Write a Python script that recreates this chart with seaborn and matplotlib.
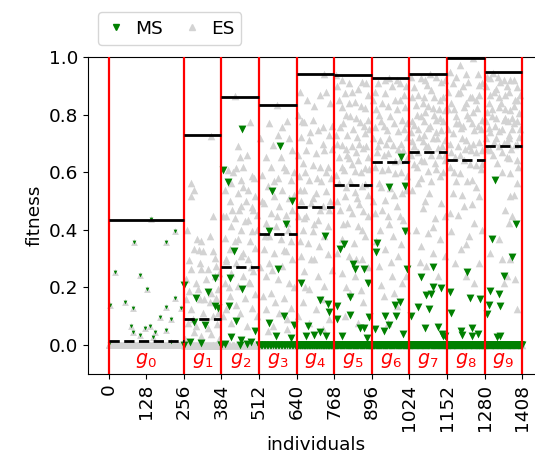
import numpy as np
import pandas as pd
import matplotlib
matplotlib.use("Agg")
import matplotlib.pyplot as plt
from matplotlib.lines import Line2D
import seaborn as sns

# ---------------- data ----------------
gen_starts = [0, 256, 384, 512, 640, 768, 896, 1024, 1152, 1280]
gen_ends = [256, 384, 512, 640, 768, 896, 1024, 1152, 1280, 1408]
gen_labels = ["$g_{0}$", "$g_{1}$", "$g_{2}$", "$g_{3}$", "$g_{4}$",
              "$g_{5}$", "$g_{6}$", "$g_{7}$", "$g_{8}$", "$g_{9}$"]
gen_best = [0.436, 0.728, 0.863, 0.834, 0.943, 0.939, 0.928, 0.942, 0.998, 0.947]
gen_mid = [0.014, 0.090, 0.270, 0.386, 0.480, 0.557, 0.636, 0.669, 0.642, 0.693]
x_ticks = [0, 128, 256, 384, 512, 640, 768, 896, 1024, 1152, 1280, 1408]
y_ticks = [0.0, 0.2, 0.4, 0.6, 0.8, 1.0]

# number of individuals with fitness 0 per generation
es_zero_counts = [200, 40, 30, 20, 15, 10, 10, 8, 8, 8]
ms_zero_counts = [0, 2, 3, 25, 60, 70, 70, 75, 80, 80]

# (offset inside generation, fitness)
es_g0 = [(145, 0.438), (225, 0.396), (85, 0.359), (194, 0.357), (20, 0.254), (108, 0.245),
         (129, 0.196), (227, 0.165), (3, 0.138), (54, 0.148), (83, 0.130), (194, 0.133),
         (245, 0.130), (176, 0.096), (213, 0.092), (75, 0.067), (142, 0.067), (125, 0.058),
         (83, 0.046), (106, 0.035), (157, 0.044), (194, 0.052), (151, 0.027), (0, 0.005),
         (213, 0.010)]
ms_g0 = list(es_g0)

es_g1 = [(93, 0.727), (25, 0.563), (34, 0.540), (25, 0.517), (99, 0.447), (46, 0.369),
         (59, 0.360), (88, 0.378), (36, 0.332), (65, 0.326), (99, 0.326), (19, 0.295),
         (54, 0.286), (105, 0.303), (25, 0.263), (59, 0.263), (82, 0.263), (110, 0.275),
         (8, 0.228), (42, 0.217), (76, 0.228), (105, 0.240), (19, 0.188), (48, 0.194),
         (93, 0.182), (116, 0.194), (8, 0.159), (54, 0.159), (88, 0.148), (110, 0.165),
         (25, 0.125), (65, 0.113), (99, 0.100), (116, 0.113), (14, 0.078), (42, 0.067),
         (82, 0.061), (114, 0.073), (36, 0.044), (93, 0.038), (5, 0.02), (60, 0.03),
         (120, 0.02), (30, 0.09), (70, 0.16), (120, 0.25), (50, 0.33), (10, 0.40)]
ms_g1 = [(0, 0.207), (105, 0.234), (82, 0.185), (42, 0.165), (105, 0.136), (116, 0.130),
         (36, 0.080), (73, 0.069), (20, 0.012), (60, 0.008)]

es_g2 = [(46, 0.865), (97, 0.776), (86, 0.661), (63, 0.653), (51, 0.615), (74, 0.620),
         (23, 0.609), (103, 0.586), (68, 0.574), (34, 0.563), (11, 0.540), (57, 0.528),
         (91, 0.540), (114, 0.517), (29, 0.500), (68, 0.482), (108, 0.470), (17, 0.447),
         (46, 0.442), (91, 0.436), (120, 0.453), (34, 0.413), (68, 0.401), (103, 0.396),
         (11, 0.373), (57, 0.367), (97, 0.361), (29, 0.332), (74, 0.321), (114, 0.338),
         (17, 0.292), (51, 0.286), (91, 0.298), (34, 0.251), (74, 0.240), (108, 0.257),
         (11, 0.217), (57, 0.205), (97, 0.217), (29, 0.171), (80, 0.165), (114, 0.176),
         (17, 0.125), (63, 0.113), (103, 0.130), (34, 0.078), (86, 0.067)]
es_g2b = [(5, 0.45), (40, 0.60), (60, 0.47), (85, 0.50), (100, 0.27), (120, 0.40),
          (15, 0.30), (45, 0.36), (80, 0.43), (110, 0.58), (25, 0.20), (65, 0.31),
          (95, 0.22), (5, 0.10), (50, 0.14), (120, 0.10), (35, 0.47), (75, 0.55),
          (105, 0.48), (55, 0.69)]
ms_g2 = [(71, 0.750), (6, 0.607), (23, 0.565), (43, 0.326), (71, 0.194), (25, 0.136),
         (29, 0.233), (51, 0.084), (116, 0.050), (11, 0.003), (66, 0.018), (86, 0.003),
         (34, 0.027), (100, 0.012)]

es_g3 = [(60, 0.834), (80, 0.759), (46, 0.696), (103, 0.719), (23, 0.655), (74, 0.655),
         (114, 0.678), (40, 0.620), (91, 0.609), (11, 0.592), (63, 0.580), (108, 0.574),
         (29, 0.551), (80, 0.540), (51, 0.517), (103, 0.511), (17, 0.494), (68, 0.482),
         (40, 0.459), (91, 0.453), (114, 0.470), (23, 0.424), (57, 0.413), (97, 0.424),
         (34, 0.378), (74, 0.367), (108, 0.361), (17, 0.332), (51, 0.321), (91, 0.326),
         (34, 0.286), (80, 0.275), (114, 0.298), (23, 0.240), (63, 0.228), (103, 0.217),
         (40, 0.182), (86, 0.165), (23, 0.125), (68, 0.113), (108, 0.130), (46, 0.067),
         (97, 0.055)]
es_g3b = [(5, 0.72), (35, 0.77), (65, 0.73), (95, 0.78), (120, 0.60), (10, 0.50),
          (50, 0.57), (85, 0.62), (120, 0.52), (20, 0.38), (60, 0.45), (100, 0.40),
          (5, 0.27), (45, 0.26), (85, 0.33), (120, 0.20), (15, 0.17), (55, 0.15),
          (95, 0.09), (30, 0.05)]
ms_g3 = [(71, 0.692), (43, 0.534), (112, 0.500), (91, 0.422), (34, 0.396), (63, 0.263),
         (86, 0.101), (34, 0.078), (120, 0.069), (57, 0.030), (108, 0.023)]

es_g4 = [(95, 0.943), (100, 0.880), (55, 0.782), (26, 0.776), (72, 0.747), (89, 0.759),
         (15, 0.724), (43, 0.713), (112, 0.730), (32, 0.678), (66, 0.667), (95, 0.678),
         (21, 0.632), (55, 0.626), (106, 0.620), (9, 0.586), (43, 0.574), (83, 0.569),
         (117, 0.580), (26, 0.540), (66, 0.528), (100, 0.534), (15, 0.500), (49, 0.494),
         (89, 0.482), (32, 0.447), (72, 0.436), (21, 0.401), (55, 0.396), (106, 0.413),
         (38, 0.355), (78, 0.344), (15, 0.309), (60, 0.298), (106, 0.315), (26, 0.257),
         (72, 0.240), (43, 0.194), (95, 0.205), (21, 0.148), (66, 0.125), (43, 0.078),
         (89, 0.055), (60, 0.83), (20, 0.78), (120, 0.76), (80, 0.62), (5, 0.66),
         (110, 0.47), (60, 0.42), (5, 0.45)]
es_g4b = [(10, 0.88), (35, 0.85), (80, 0.87), (115, 0.84), (5, 0.80), (45, 0.74),
          (90, 0.70), (120, 0.68), (30, 0.60), (70, 0.58), (100, 0.60), (10, 0.54),
          (55, 0.51), (115, 0.50), (25, 0.44), (80, 0.47), (95, 0.38), (10, 0.36),
          (50, 0.30), (120, 0.26), (30, 0.20), (85, 0.16), (5, 0.10), (110, 0.09)]
ms_g4 = [(96, 0.380), (15, 0.217), (80, 0.158), (108, 0.143), (112, 0.115), (40, 0.067),
         (80, 0.044), (32, 0.032), (100, 0.030), (60, 0.035)]

es_g5 = [(5, 0.937), (94, 0.915), (37, 0.874), (71, 0.845), (26, 0.828), (105, 0.822),
         (54, 0.794), (88, 0.776), (20, 0.759), (116, 0.782), (43, 0.730), (77, 0.724),
         (105, 0.736), (26, 0.696), (60, 0.690), (99, 0.684), (15, 0.655), (49, 0.649),
         (82, 0.644), (116, 0.655), (32, 0.609), (71, 0.603), (105, 0.615), (15, 0.563),
         (54, 0.569), (94, 0.551), (37, 0.517), (77, 0.511), (116, 0.522), (20, 0.470),
         (60, 0.459), (99, 0.465), (43, 0.424), (82, 0.413), (26, 0.367), (66, 0.355),
         (105, 0.378), (49, 0.309), (94, 0.298), (26, 0.251), (71, 0.240), (54, 0.182),
         (99, 0.148), (37, 0.101), (82, 0.078), (10, 0.90), (60, 0.88), (115, 0.87),
         (40, 0.80), (75, 0.79), (120, 0.75), (10, 0.70), (85, 0.70), (45, 0.66), (120, 0.61)]
es_g5b = [(25, 0.92), (50, 0.91), (80, 0.89), (110, 0.91), (15, 0.85), (50, 0.84),
          (90, 0.83), (30, 0.77), (65, 0.75), (100, 0.76), (5, 0.73), (40, 0.68),
          (75, 0.67), (110, 0.69), (25, 0.62), (60, 0.63), (90, 0.60), (5, 0.59),
          (40, 0.55), (70, 0.53), (105, 0.56), (10, 0.50), (50, 0.48), (85, 0.49),
          (115, 0.45), (30, 0.42), (95, 0.40), (10, 0.32), (75, 0.30), (115, 0.27),
          (40, 0.20), (90, 0.19)]
ms_g5 = [(21, 0.334), (33, 0.350), (63, 0.280), (70, 0.265), (101, 0.265), (115, 0.215),
         (55, 0.167), (10, 0.136), (10, 0.090), (55, 0.104), (118, 0.096), (89, 0.058),
         (101, 0.061), (27, 0.032), (112, 0.023)]

es_g6 = [(60, 0.928), (11, 0.880), (45, 0.874), (96, 0.909), (34, 0.840), (79, 0.851),
         (113, 0.828), (23, 0.800), (62, 0.794), (102, 0.782), (11, 0.759), (51, 0.747),
         (90, 0.742), (119, 0.724), (28, 0.713), (73, 0.696), (107, 0.678), (17, 0.672),
         (56, 0.667), (96, 0.644), (34, 0.609), (79, 0.597), (119, 0.586), (23, 0.563),
         (62, 0.546), (102, 0.528), (45, 0.505), (85, 0.482), (11, 0.459), (56, 0.447),
         (107, 0.436), (28, 0.401), (73, 0.378), (45, 0.332), (90, 0.309), (23, 0.275),
         (68, 0.240), (102, 0.217), (40, 0.171), (85, 0.136), (56, 0.078), (5, 0.85),
         (70, 0.90), (115, 0.90), (30, 0.78), (85, 0.82), (120, 0.77), (5, 0.72),
         (60, 0.72), (100, 0.70), (40, 0.66), (80, 0.64), (120, 0.65)]
es_g6b = [(20, 0.91), (45, 0.92), (85, 0.92), (110, 0.87), (15, 0.82), (55, 0.83),
          (95, 0.85), (40, 0.76), (75, 0.77), (110, 0.75), (20, 0.69), (50, 0.70),
          (90, 0.68), (10, 0.62), (55, 0.61), (100, 0.60), (30, 0.55), (75, 0.52),
          (115, 0.54), (5, 0.50), (35, 0.47), (95, 0.45), (60, 0.42), (120, 0.40),
          (15, 0.36), (100, 0.35), (65, 0.29), (115, 0.24), (30, 0.21), (75, 0.18)]
ms_g6 = [(58, 0.549), (112, 0.553), (98, 0.655), (112, 0.396), (18, 0.355), (15, 0.323),
         (120, 0.265), (97, 0.148), (78, 0.138), (46, 0.101), (82, 0.101), (58, 0.069),
         (41, 0.050), (10, 0.055), (108, 0.038)]

es_g7 = [(70, 0.940), (40, 0.926), (108, 0.915), (17, 0.897), (74, 0.886), (51, 0.863),
         (103, 0.851), (23, 0.834), (80, 0.822), (120, 0.817), (40, 0.794), (91, 0.782),
         (17, 0.765), (63, 0.753), (108, 0.747), (34, 0.724), (80, 0.719), (120, 0.713),
         (17, 0.690), (57, 0.690), (97, 0.684), (40, 0.644), (86, 0.632), (120, 0.644),
         (63, 0.603), (103, 0.586), (29, 0.563), (68, 0.528), (108, 0.494), (46, 0.476),
         (86, 0.442), (23, 0.401), (63, 0.390), (103, 0.367), (40, 0.344), (80, 0.321),
         (120, 0.309), (57, 0.275), (97, 0.240), (10, 0.78), (30, 0.87), (60, 0.905),
         (85, 0.80), (115, 0.86), (5, 0.66), (45, 0.71), (65, 0.83), (95, 0.72),
         (120, 0.66), (25, 0.62), (75, 0.66), (50, 0.78), (105, 0.79)]
es_g7b = [(5, 0.93), (55, 0.92), (90, 0.93), (120, 0.92), (10, 0.86), (45, 0.84),
          (85, 0.86), (100, 0.82), (25, 0.80), (55, 0.81), (115, 0.78), (5, 0.74),
          (30, 0.75), (70, 0.76), (90, 0.74), (10, 0.71), (50, 0.73), (110, 0.69),
          (30, 0.67), (65, 0.69), (100, 0.66), (15, 0.63), (50, 0.64), (90, 0.61),
          (115, 0.60), (40, 0.58), (75, 0.57), (10, 0.54), (55, 0.50), (120, 0.45),
          (80, 0.41), (35, 0.29)]
ms_g7 = [(80, 0.272), (40, 0.236), (80, 0.200), (108, 0.197), (57, 0.174), (74, 0.179),
         (29, 0.133), (68, 0.127), (6, 0.100), (54, 0.061), (97, 0.063), (114, 0.032),
         (111, 0.038), (122, 0.032)]

es_g8 = [(90, 0.998), (43, 0.972), (20, 0.909), (71, 0.915), (110, 0.903), (37, 0.874),
         (87, 0.863), (15, 0.840), (59, 0.828), (104, 0.822), (31, 0.794), (76, 0.788),
         (121, 0.782), (48, 0.753), (93, 0.747), (20, 0.736), (65, 0.713), (110, 0.707),
         (37, 0.690), (82, 0.678), (121, 0.678), (26, 0.655), (59, 0.644), (99, 0.626),
         (43, 0.597), (87, 0.574), (110, 0.517), (20, 0.528), (59, 0.482), (37, 0.453),
         (93, 0.424), (15, 0.396), (76, 0.378), (48, 0.332), (110, 0.286), (26, 0.286),
         (65, 0.240), (93, 0.217), (5, 0.88), (55, 0.90), (100, 0.85), (30, 0.77),
         (70, 0.80), (115, 0.75), (10, 0.70), (50, 0.72), (90, 0.70), (120, 0.63),
         (60, 0.68), (25, 0.60)]
es_g8b = [(10, 0.95), (30, 0.93), (65, 0.94), (105, 0.94), (120, 0.91), (45, 0.88),
          (80, 0.86), (110, 0.87), (5, 0.82), (25, 0.82), (65, 0.84), (90, 0.81),
          (40, 0.77), (85, 0.77), (105, 0.76), (5, 0.75), (55, 0.76), (15, 0.67),
          (45, 0.66), (75, 0.69), (100, 0.67), (10, 0.62), (80, 0.63), (115, 0.61),
          (30, 0.57), (70, 0.57), (100, 0.55), (50, 0.52), (85, 0.49), (10, 0.46),
          (120, 0.40), (65, 0.35)]
ms_g8 = [(67, 0.254), (80, 0.165), (111, 0.159), (49, 0.050), (52, 0.035), (86, 0.032),
         (106, 0.038), (12, 0.186), (15, 0.113), (87, 0.061)]

es_g9 = [(30, 0.946), (19, 0.926), (54, 0.915), (88, 0.920), (111, 0.897), (31, 0.880),
         (71, 0.869), (105, 0.851), (14, 0.840), (48, 0.828), (88, 0.817), (116, 0.805),
         (25, 0.794), (65, 0.782), (99, 0.771), (14, 0.753), (48, 0.742), (82, 0.730),
         (116, 0.724), (31, 0.707), (65, 0.701), (105, 0.696), (19, 0.678), (76, 0.655),
         (111, 0.644), (42, 0.632), (88, 0.597), (111, 0.563), (88, 0.517), (93, 0.447),
         (82, 0.424), (48, 0.367), (59, 0.298), (88, 0.298), (19, 0.321), (76, 0.240),
         (105, 0.228), (65, 0.217), (111, 0.125), (5, 0.90), (40, 0.89), (75, 0.90),
         (120, 0.87), (10, 0.81), (55, 0.84), (95, 0.79), (35, 0.76), (70, 0.79),
         (120, 0.75), (5, 0.72), (50, 0.69), (85, 0.72)]
es_g9b = [(10, 0.93), (45, 0.93), (65, 0.92), (100, 0.92), (20, 0.87), (50, 0.86),
          (85, 0.88), (110, 0.85), (25, 0.82), (70, 0.82), (100, 0.83), (5, 0.78),
          (40, 0.79), (80, 0.78), (110, 0.78), (20, 0.74), (60, 0.75), (95, 0.75),
          (40, 0.72), (75, 0.71), (110, 0.70), (10, 0.68), (60, 0.67), (90, 0.68),
          (30, 0.66), (85, 0.65), (115, 0.62), (60, 0.60), (100, 0.52), (70, 0.47)]
ms_g9 = [(36, 0.574), (108, 0.419), (25, 0.367), (93, 0.307), (65, 0.240), (19, 0.188),
         (48, 0.176), (14, 0.138), (54, 0.134), (10, 0.107), (42, 0.027), (54, 0.032)]

es_gens = [es_g0, es_g1, es_g2 + es_g2b, es_g3 + es_g3b, es_g4 + es_g4b,
           es_g5 + es_g5b, es_g6 + es_g6b, es_g7 + es_g7b, es_g8 + es_g8b, es_g9 + es_g9b]
ms_gens = [ms_g0, ms_g1, ms_g2, ms_g3, ms_g4, ms_g5, ms_g6, ms_g7, ms_g8, ms_g9]

# ---------------- build tables ----------------
rows = []
for g, (s, e) in enumerate(zip(gen_starts, gen_ends)):
    for kind, pts, nz in (("ES", es_gens[g], es_zero_counts[g]),
                          ("MS", ms_gens[g], ms_zero_counts[g])):
        for off, fit in pts:
            rows.append((s + off, fit, kind, g))
        for xz in np.linspace(s, e - 1, nz):
            rows.append((xz, 0.0, kind, g))
df = pd.DataFrame(rows, columns=["individual", "fitness", "method", "gen"])

# ---------------- plot ----------------
fig = plt.figure(figsize=(5.35, 4.65), dpi=100)
ax = fig.add_axes([0.1645, 0.196, 0.850, 0.681])
FS = 13.3

es0 = df[(df.method == "ES") & (df.gen == 0)]
esr = df[(df.method == "ES") & (df.gen > 0)]
ms0 = df[(df.method == "MS") & (df.gen == 0)]
msr = df[(df.method == "MS") & (df.gen > 0)]

sns.scatterplot(data=esr, x="individual", y="fitness", marker="^", color="lightgray",
                s=30, linewidth=0, ax=ax, zorder=2, legend=False)
sns.scatterplot(data=es0, x="individual", y="fitness", marker="^", color="lightgray",
                s=24, linewidth=0, ax=ax, zorder=2, legend=False)
sns.scatterplot(data=msr, x="individual", y="fitness", marker="v", color="green",
                s=32, linewidth=0, ax=ax, zorder=2.5, legend=False)
sns.scatterplot(data=ms0, x="individual", y="fitness", marker="v", color="green",
                s=7, linewidth=0, ax=ax, zorder=2.5, legend=False)

for b in gen_starts + [gen_ends[-1]]:
    ax.axvline(b, color="red", lw=1.6, zorder=3)
ax.hlines(gen_best, gen_starts, gen_ends, colors="black", lw=2, zorder=4)
ax.hlines(gen_mid, gen_starts, gen_ends, colors="black", lw=2, linestyles="--", zorder=4)
for s, e, lab in zip(gen_starts, gen_ends, gen_labels):
    ax.text((s + e) / 2, -0.052, lab, color="red", ha="center", va="center", fontsize=FS + 0.5)

ax.set_xlim(-0.05 * gen_ends[-1], 1.05 * gen_ends[-1])
ax.set_ylim(-0.1, 1.0)
ax.set_xticks(x_ticks)
ax.set_xticklabels([str(t) for t in x_ticks], rotation=90, fontsize=FS)
ax.set_yticks(y_ticks)
ax.set_yticklabels([f"{t:.1f}" for t in y_ticks], fontsize=FS)
ax.set_xlabel("individuals", fontsize=FS)
ax.set_ylabel("fitness", fontsize=FS)

handles = [Line2D([], [], marker="v", color="green", ls="none", markersize=5),
           Line2D([], [], marker="^", color="lightgray", ls="none", markersize=5)]
ax.legend(handles, ["MS", "ES"], ncol=2, loc="upper left", bbox_to_anchor=(0.022, 1.142),
          fontsize=FS, handlelength=1.2, handletextpad=0.4, columnspacing=1.0,
          borderaxespad=0)

fig.savefig("out.png", dpi=100)
